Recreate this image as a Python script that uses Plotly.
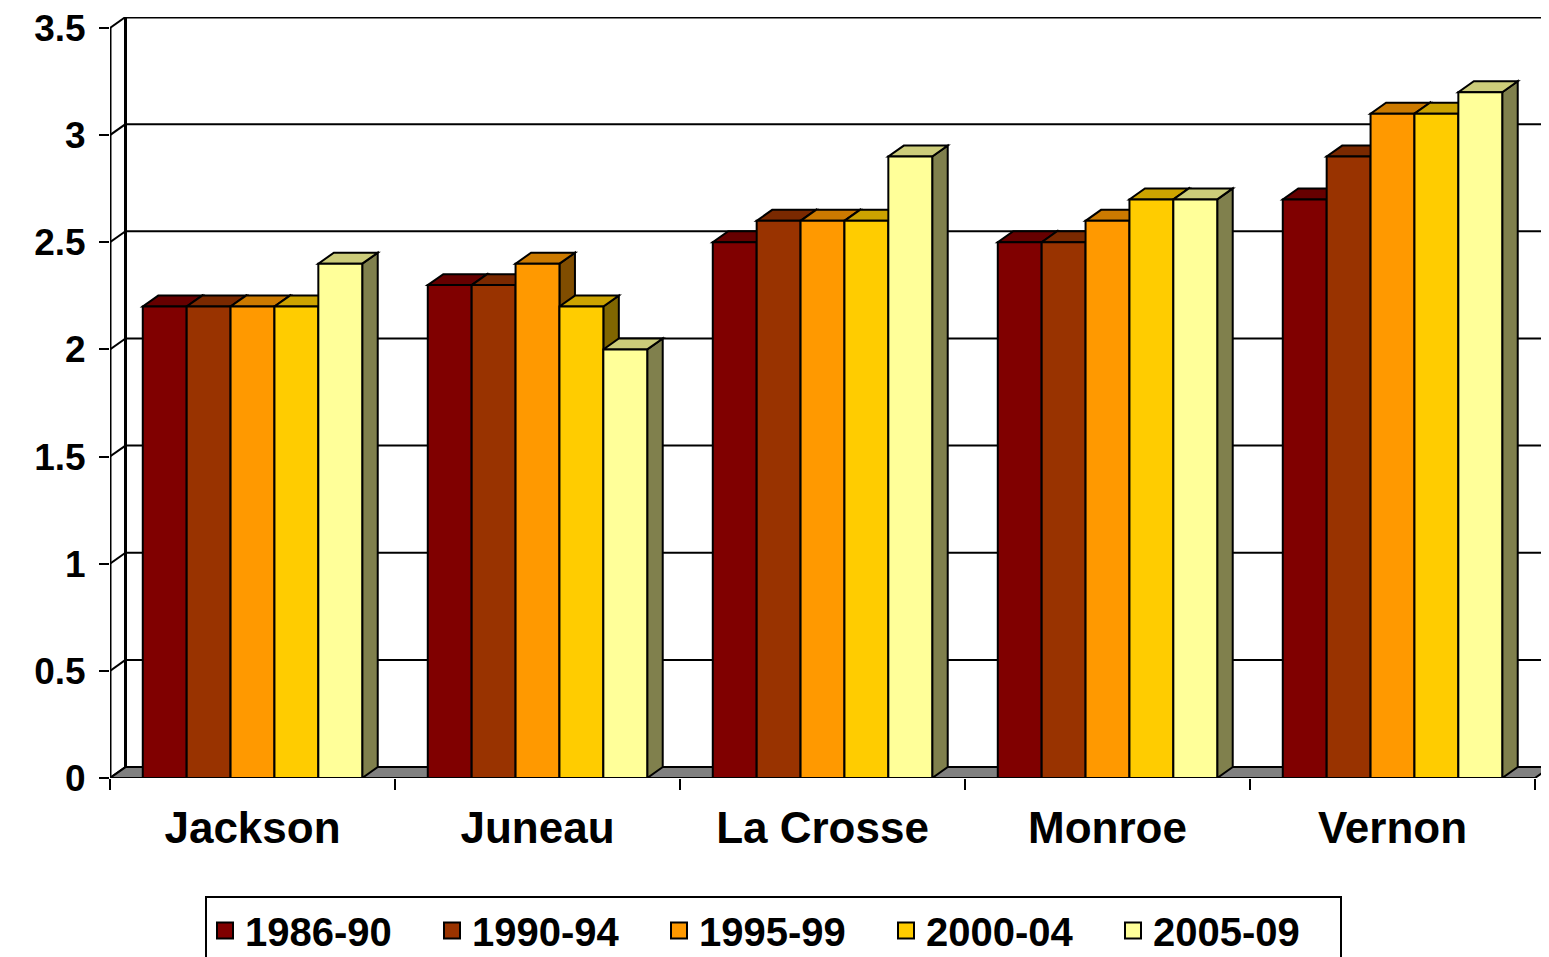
import plotly.graph_objects as go

# значения с картинки
counties = ["Jackson", "Juneau", "La Crosse", "Monroe", "Vernon"]
periods = ["1986-90", "1990-94", "1995-99", "2000-04", "2005-09"]
values = {
    "1986-90": [2.2, 2.3, 2.5, 2.5, 2.7],
    "1990-94": [2.2, 2.3, 2.6, 2.5, 2.9],
    "1995-99": [2.2, 2.4, 2.6, 2.6, 3.1],
    "2000-04": [2.2, 2.2, 2.6, 2.7, 3.1],
    "2005-09": [2.4, 2.0, 2.9, 2.7, 3.2],
}
y_ticks = [0, 0.5, 1, 1.5, 2, 2.5, 3, 3.5]

front = ["#800000", "#993300", "#FF9900", "#FFCC00", "#FFFF99"]
top = ["#660000", "#7A2900", "#CC7A00", "#CCA300", "#CCCC7A"]
side = ["#400000", "#4D1A00", "#804D00", "#806600", "#80804D"]

# страница в браузере имеет отступ 8px у body, поэтому фигура меньше окна на 8
W, H = 1541, 949
ml, mt, mb = 102, 5, 179
px_x = 285.0
px_y = 215.4
dx = 15.5 / px_x   # глубина "3D" по x
dy = 11.0 / px_y   # и по y
xmax = -0.5 + (W - ml) / px_x
ymax = y_ticks[-1] + dy

bargap = 0.23
bw = (1 - bargap) / len(periods)
font = "Liberation Sans, Arial, sans-serif"

fig = go.Figure()
for i, p in enumerate(periods):
    fig.add_trace(go.Bar(x=list(range(len(counties))), y=values[p], name=p,
                         legendgroup=p, showlegend=False,
                         marker=dict(color=front[i], line=dict(color="black", width=2))))
# отдельные пустые трейсы только ради крупных квадратиков в легенде
for i, p in enumerate(periods):
    fig.add_trace(go.Scatter(x=[None], y=[None], mode="markers", name=p, legendgroup=p,
                             marker=dict(symbol="square", size=24, color=front[i],
                                         line=dict(color="black", width=2))))

shapes = []

def path(pts):
    return "M " + " L ".join(f"{x},{y}" for x, y in pts) + " Z"

# задняя стенка и сетка
for v in y_ticks:
    shapes.append(dict(type="line", xref="x", yref="y", x0=-0.5 + dx, x1=xmax, y0=v + dy, y1=v + dy,
                       line=dict(color="black", width=2 if v < 3.5 else 3), layer="below"))
    shapes.append(dict(type="line", xref="x", yref="y", x0=-0.5, x1=-0.5 + dx, y0=v, y1=v + dy,
                       line=dict(color="black", width=2), layer="below"))
shapes.append(dict(type="line", xref="x", yref="y", x0=-0.5 + dx, x1=-0.5 + dx, y0=dy, y1=ymax,
                   line=dict(color="black", width=3), layer="below"))
# пол
shapes.append(dict(type="path", xref="x", yref="y", layer="below",
                   path=path([(-0.5, 0), (4.5, 0), (4.5 + dx, dy), (-0.5 + dx, dy)]),
                   fillcolor="#808080", line=dict(color="black", width=2)))
# передняя ось
shapes.append(dict(type="line", xref="x", yref="y", x0=-0.5, x1=-0.5, y0=0, y1=y_ticks[-1],
                   line=dict(color="black", width=3), layer="below"))

# боковые и верхние грани
sides, tops = [], []
for i, p in enumerate(periods):
    for c, h in enumerate(values[p]):
        x0 = c - (1 - bargap) / 2 + i * bw
        x1 = x0 + bw
        sides.append(dict(type="path", xref="x", yref="y", layer="below",
                          path=path([(x1, 0), (x1, h), (x1 + dx, h + dy), (x1 + dx, dy)]),
                          fillcolor=side[i], line=dict(color="black", width=2)))
        tops.append(dict(type="path", xref="x", yref="y", layer="below",
                         path=path([(x0, h), (x1, h), (x1 + dx, h + dy), (x0 + dx, h + dy)]),
                         fillcolor=top[i], line=dict(color="black", width=2)))
shapes += sides + tops

fig.update_layout(
    width=W, height=H,
    margin=dict(l=ml, r=0, t=mt, b=mb),
    paper_bgcolor="white", plot_bgcolor="white",
    barmode="group", bargap=bargap, bargroupgap=0,
    shapes=shapes,
    font=dict(family=font, color="black"),
    xaxis=dict(range=[-0.5, xmax], tickmode="array", tickvals=list(range(len(counties))),
               ticktext=counties, ticks="", showgrid=False, zeroline=False, showline=False,
               tickfont=dict(size=44, weight="bold"), ticklabelstandoff=20,
               minor=dict(tickmode="linear", tick0=-0.5, dtick=1, ticks="outside",
                          ticklen=11, tickwidth=2, tickcolor="black", showgrid=False)),
    yaxis=dict(range=[0, ymax], tickmode="array", tickvals=y_ticks,
               ticktext=[f"{v:g}" for v in y_ticks], ticks="outside", ticklen=10,
               tickwidth=2, tickcolor="black", showgrid=False, zeroline=False, showline=False,
               tickfont=dict(size=37, weight="bold"), ticklabelstandoff=6,
               ticklabeloverflow="allow"),
    legend=dict(orientation="h", xref="container", yref="container",
                x=(205 - 8) / W, y=1 - (896 - 8) / H, xanchor="left", yanchor="top",
                bordercolor="black", borderwidth=2, bgcolor="white", itemsizing="trace",
                font=dict(size=40, weight="bold"), entrywidth=182, itemwidth=30),
    showlegend=True,
)

fig.write_html("out.html")
